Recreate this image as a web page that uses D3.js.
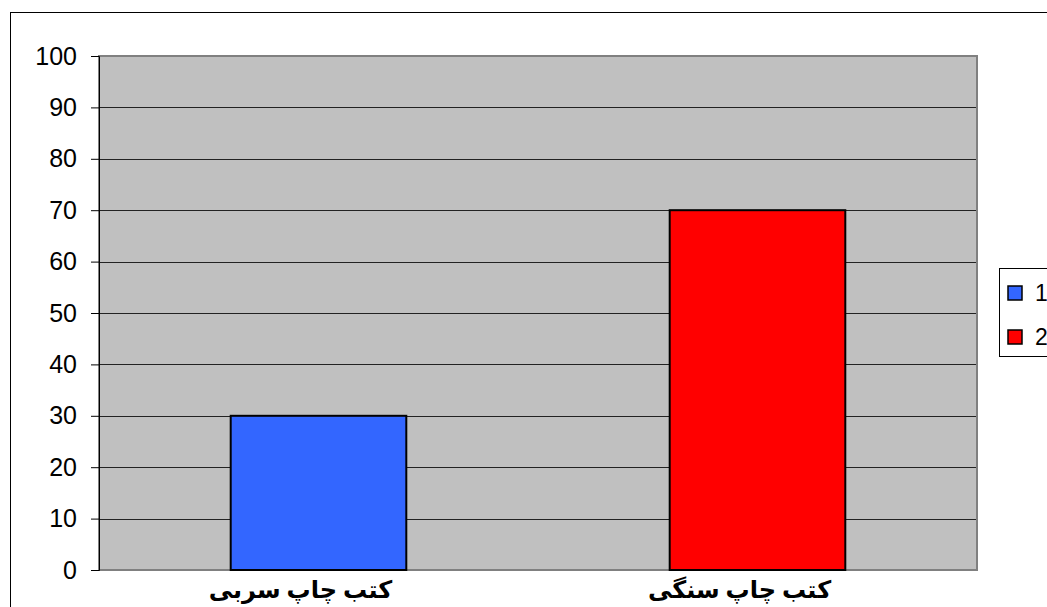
<!DOCTYPE html>
<html>
<head>
<meta charset="utf-8">
<script src="https://cdn.jsdelivr.net/npm/d3@7"></script>
<style>
  body { margin: 0; background: #fff; }
  svg { display: block; }
</style>
</head>
<body>
<svg id="chart" width="1047" height="607"></svg>
<script>
const categories = ['کتب چاپ سربی', 'کتب چاپ سنگی'];
const values = [30, 70];
const seriesNames = ['1', '2'];
const barColors = ['#3366ff', '#ff0000'];
const yTicks = [0, 10, 20, 30, 40, 50, 60, 70, 80, 90, 100];

const svg = d3.select('#chart');
const margin = { top: 56, left: 99, right: 70, bottom: 37 };
const width = 1047 - margin.left - margin.right;
const height = 607 - margin.top - margin.bottom;

// outer chart border (runs off the page at right/bottom)
svg.append('rect')
    .attr('x', 10.5)
    .attr('y', 12.5)
    .attr('width', 1100)
    .attr('height', 700)
    .attr('fill', 'none')
    .attr('stroke', '#000')
    .attr('stroke-width', 1);

const g = svg.append('g').attr('transform', `translate(${margin.left},${margin.top})`);

const x = d3.scaleBand().domain(categories).range([0, width]).paddingInner(0.6).paddingOuter(0.3);
const y = d3.scaleLinear().domain([0, 100]).range([height, 0]);

g.append('rect')
    .attr('width', width)
    .attr('height', height)
    .attr('fill', '#c0c0c0');

g.selectAll('.grid')
  .data(yTicks.filter(d => d > 0))
  .join('line')
    .attr('class', 'grid')
    .attr('x1', 0)
    .attr('x2', width)
    .attr('y1', d => Math.round(y(d)) + 0.5)
    .attr('y2', d => Math.round(y(d)) + 0.5)
    .attr('stroke', '#222')
    .attr('stroke-width', 1);

g.append('rect')
    .attr('width', width)
    .attr('height', height)
    .attr('fill', 'none')
    .attr('stroke', '#808080')
    .attr('stroke-width', 2);

g.selectAll('.bar')
  .data(values)
  .join('rect')
    .attr('class', 'bar')
    .attr('x', (d, i) => x(categories[i]))
    .attr('y', d => y(d))
    .attr('width', x.bandwidth())
    .attr('height', d => height - y(d))
    .attr('fill', (d, i) => barColors[i])
    .attr('stroke', '#000')
    .attr('stroke-width', 2);

const yAxis = g.append('g')
    .call(d3.axisLeft(y).tickValues(yTicks).tickSize(8).tickPadding(14).tickFormat(d3.format('d')));
yAxis.select('.domain').attr('stroke', '#000');
yAxis.selectAll('.tick line').attr('stroke', '#000');
yAxis.selectAll('text')
    .attr('fill', '#000')
    .style('font-family', 'Arial, "Liberation Sans", sans-serif')
    .style('font-size', '25px');

const xAxis = g.append('g')
    .attr('transform', `translate(0,${height})`)
    .call(d3.axisBottom(x).tickSize(0).tickPadding(11));
xAxis.select('.domain').remove();
xAxis.selectAll('text')
    .attr('fill', '#000')
    .attr('direction', 'rtl')
    .attr('dx', -18)
    .style('font-family', '"Times New Roman", "DejaVu Sans", serif')
    .style('font-weight', 'bold')
    .style('font-size', '24px');

// legend
const legend = svg.append('g').attr('transform', 'translate(999,268)');
legend.append('rect')
    .attr('x', 0.5)
    .attr('y', 0.5)
    .attr('width', 100)
    .attr('height', 88)
    .attr('fill', '#fff')
    .attr('stroke', '#000');

const items = legend.selectAll('.item')
  .data(seriesNames)
  .join('g')
    .attr('class', 'item')
    .attr('transform', (d, i) => `translate(9,${18 + i * 44})`);

items.append('rect')
    .attr('width', 14)
    .attr('height', 14)
    .attr('fill', (d, i) => barColors[i])
    .attr('stroke', '#000')
    .attr('stroke-width', 1.5);

items.append('text')
    .attr('x', 27)
    .attr('y', 15)
    .attr('fill', '#000')
    .style('font-family', 'Arial, "Liberation Sans", sans-serif')
    .style('font-size', '23px')
    .text(d => d);
</script>
</body>
</html>
